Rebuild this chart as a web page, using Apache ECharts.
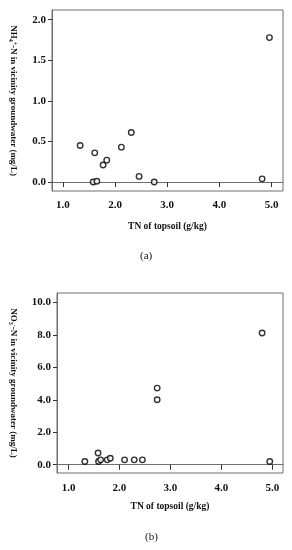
<!DOCTYPE html>
<html>
<head>
<meta charset="utf-8">
<script src="https://cdn.jsdelivr.net/npm/echarts@6/dist/echarts.min.js"></script>
<style>html,body{margin:0;padding:0;background:#fff;}#c{width:292px;height:550px;}</style>
</head>
<body>
<div id="c"></div>
<script>
// TN of topsoil (g/kg)
const tnA = [4.96, 2.31, 1.33, 1.61, 2.12, 1.77, 1.84, 1.58, 1.65, 2.46, 2.75, 4.82];
const nh4 = [1.78, 0.61, 0.45, 0.36, 0.43, 0.21, 0.27, 0.00, 0.01, 0.07, 0.00, 0.04];
const tnB = [4.80, 2.74, 2.74, 1.32, 1.58, 1.59, 1.63, 1.76, 1.82, 2.10, 2.29, 2.45, 4.95];
const no3 = [8.12, 4.72, 4.00, 0.20, 0.72, 0.20, 0.30, 0.30, 0.40, 0.30, 0.30, 0.30, 0.20];
const xTicks = [1.0, 2.0, 3.0, 4.0, 5.0];
const yTicksA = [0.0, 0.5, 1.0, 1.5, 2.0];
const yTicksB = [0.0, 2.0, 4.0, 6.0, 8.0, 10.0];

const serif = '"Liberation Serif", "DejaVu Serif", serif';
const boxColor = '#6e6e6e';

function xAxis(gi, min, max, gap, margin) {
  return {
    type: 'value', gridIndex: gi, min: min, max: max,
    name: 'TN of topsoil (g/kg)', nameLocation: 'middle', nameGap: gap,
    nameTextStyle: {fontFamily: serif, fontWeight: 'bold', fontSize: 9.5, color: '#111'},
    axisLine: {show: true, lineStyle: {color: boxColor, width: 1}},
    axisTick: {show: true, length: 5, lineStyle: {color: '#333'}, customValues: xTicks},
    axisLabel: {fontFamily: serif, fontWeight: 'bold', fontSize: 11, color: '#111', margin: margin,
      customValues: xTicks, formatter: v => v.toFixed(1)},
    splitLine: {show: false}
  };
}
function yAxis(gi, min, max, ticks, name, gap) {
  return {
    type: 'value', gridIndex: gi, min: min, max: max,
    name: name, nameLocation: 'middle', nameGap: gap, nameRotate: -90,
    nameTextStyle: {fontFamily: serif, fontWeight: 'bold', fontSize: 9, color: '#111',
      rich: {
        n: {fontFamily: serif, fontWeight: 'bold', fontSize: 9, color: '#111'},
        sub: {fontFamily: serif, fontWeight: 'bold', fontSize: 6, color: '#111', verticalAlign: 'bottom', padding: [4, 0, 0, 0]},
        sup: {fontFamily: serif, fontWeight: 'bold', fontSize: 6, color: '#111', verticalAlign: 'top', padding: [0, 0, 4, 0]}
      }},
    axisLine: {show: true, lineStyle: {color: boxColor, width: 1}},
    axisTick: {show: true, length: 4, lineStyle: {color: '#333'}, customValues: ticks},
    axisLabel: {fontFamily: serif, fontWeight: 'bold', fontSize: 11, color: '#111', margin: 6,
      customValues: ticks, formatter: v => v.toFixed(1)},
    splitLine: {show: false}
  };
}
function scatter(xi, xs, ys) {
  return {
    type: 'scatter', xAxisIndex: xi, yAxisIndex: xi,
    data: xs.map((x, i) => [x, ys[i]]),
    symbol: 'circle', symbolSize: 5.5,
    itemStyle: {color: '#fff', borderColor: '#000', borderWidth: 1.4},
    silent: true, animation: false
  };
}

const chart = echarts.init(document.getElementById('c'), null, {renderer: 'canvas'});
chart.setOption({
  backgroundColor: '#fff',
  animation: false,
  grid: [
    {left: 48, top: 10, width: 235, height: 181, show: true, borderColor: boxColor, borderWidth: 1, containLabel: false},
    {left: 53, top: 293, width: 230, height: 180, show: true, borderColor: boxColor, borderWidth: 1, containLabel: false}
  ],
  xAxis: [xAxis(0, 0.79, 5.22, 31, 9), xAxis(1, 0.774, 5.21, 29, 10)],
  yAxis: [
    yAxis(0, -0.11, 2.12, yTicksA, '{n|NH}{sub|4}{sup|+}{n|-N in vicinity groundwater (mg/L)}', 34),
    yAxis(1, -0.51, 10.58, yTicksB, '{n|NO}{sub|3}{sup|-}{n|-N in vicinity groundwater (mg/L)}', 39)
  ],
  series: [scatter(0, tnA, nh4), scatter(1, tnB, no3)],
  graphic: [
    {type: 'text', left: 140, top: 251, style: {text: '(a)', font: '11px ' + serif, fill: '#111'}},
    {type: 'text', left: 145, top: 532, style: {text: '(b)', font: '11px ' + serif, fill: '#111'}}
  ]
});
</script>
</body>
</html>
